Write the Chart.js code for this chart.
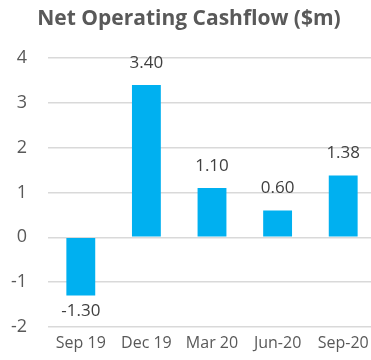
<!DOCTYPE html>
<html>
<head>
<meta charset="utf-8">
<script src="https://cdn.jsdelivr.net/npm/chart.js@4"></script>
<style>
  html, body { margin: 0; padding: 0; background: #fff; overflow: hidden; }
  #wrap { width: 376px; height: 360px; }
</style>
</head>
<body>
<div id="wrap"><canvas id="barChart"></canvas></div>
<script>
const quarters = ['Sep 19', 'Dec 19', 'Mar 20', 'Jun-20', 'Sep-20'];
const cashflow = [-1.30, 3.40, 1.10, 0.60, 1.38];
const yTicks = [-2, -1, 0, 1, 2, 3, 4];

// value labels above (or below, for negatives) each bar
const valueLabels = {
    id: 'valueLabels',
    afterDatasetsDraw(chart) {
        const ctx = chart.ctx;
        const meta = chart.getDatasetMeta(0);
        ctx.save();
        ctx.font = '17px "Open Sans", sans-serif';
        ctx.fillStyle = '#404040';
        ctx.textAlign = 'center';
        ctx.textBaseline = 'alphabetic';
        meta.data.forEach(function (bar, i) {
            const v = cashflow[i];
            const y = v < 0 ? bar.y + 21 : bar.y - 17;
            ctx.fillText(v.toFixed(2), bar.x, y);
        });
        ctx.restore();
    }
};

new Chart(document.getElementById('barChart'), {
    type: 'bar',
    data: {
        labels: quarters,
        datasets: [{
            data: cashflow,
            backgroundColor: '#00b0f0',
            barPercentage: 0.44,
            categoryPercentage: 1,
        }],
    },
    options: {
        responsive: true,
        maintainAspectRatio: false,
        animation: false,
        layout: { padding: { top: 0, right: 0, left: 2, bottom: 0 } },
        plugins: {
            legend: { display: false },
            tooltip: { enabled: false },
            title: {
                display: true,
                text: 'Net Operating Cashflow ($m)',
                color: '#595959',
                font: { family: '"Open Sans", sans-serif', size: 21, weight: 'bold' },
                padding: { top: 6, bottom: 27 },
            },
        },
        scales: {
            y: {
                min: yTicks[0],
                max: yTicks[yTicks.length - 1],
                afterBuildTicks: function (axis) {
                    axis.ticks = yTicks.map(function (v) { return { value: v }; });
                },
                afterFit: function (axis) {
                    axis.width = 46;
                },
                border: { display: false },
                grid: { color: '#d9d9d9', lineWidth: 1.5, drawTicks: false },
                ticks: {
                    color: '#595959',
                    padding: 21,
                    font: { family: '"Open Sans", sans-serif', size: 18 },
                },
            },
            x: {
                border: { display: false },
                grid: { display: false, drawTicks: false },
                ticks: {
                    color: '#595959',
                    padding: 7,
                    maxRotation: 0,
                    autoSkip: false,
                    font: { family: '"Open Sans", sans-serif', size: 16 },
                },
            },
        },
    },
    plugins: [valueLabels],
});
</script>
</body>
</html>
